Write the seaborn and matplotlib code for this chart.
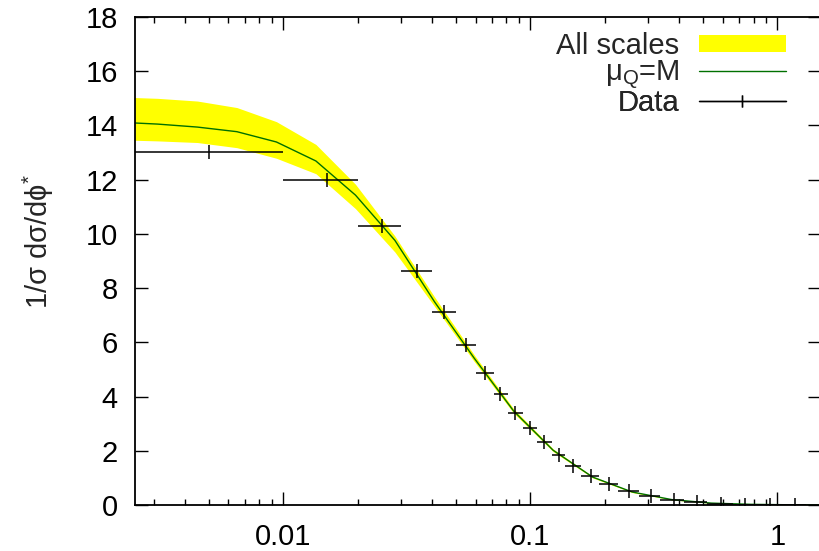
import numpy as np
import pandas as pd
import matplotlib
matplotlib.use("Agg")
import matplotlib.pyplot as plt
import seaborn as sns
from matplotlib.patches import Patch
from matplotlib.lines import Line2D
from matplotlib.ticker import LogLocator, NullFormatter, FixedLocator, FixedFormatter

# ---------------- data ----------------
theory_x = [0.00215, 0.00310, 0.00449, 0.00649, 0.00938, 0.01355, 0.0196, 0.0283,
            0.0409, 0.0592, 0.0855, 0.1236, 0.1786, 0.258, 0.373, 0.540, 0.780, 1.127, 1.63]
theory_central = [14.12, 14.05, 13.94, 13.77, 13.39, 12.69, 11.43, 9.76,
                  7.50, 5.42, 3.47, 2.02, 1.03, 0.48, 0.20, 0.07, 0.025, 0.008, 0.003]
theory_hi = [15.05, 15.00, 14.90, 14.66, 14.14, 13.30, 11.83, 9.92,
             7.68, 5.54, 3.55, 2.07, 1.06, 0.50, 0.21, 0.075, 0.028, 0.009, 0.0035]
theory_lo = [13.47, 13.43, 13.37, 13.18, 12.79, 12.22, 10.93, 9.33,
             7.33, 5.30, 3.39, 1.97, 1.00, 0.46, 0.19, 0.065, 0.022, 0.007, 0.0025]

data_x = [0.005, 0.015, 0.025, 0.0348, 0.0447, 0.0547, 0.0655, 0.0752, 0.0867, 0.100,
          0.114, 0.131, 0.149, 0.176, 0.208, 0.251, 0.307, 0.381, 0.474, 0.59, 0.74, 0.933, 1.175]
data_lo = [0.0, 0.01, 0.02, 0.03, 0.04, 0.05, 0.06, 0.0712, 0.081, 0.093,
           0.1065, 0.122, 0.138, 0.161, 0.19, 0.227, 0.276, 0.336, 0.42, 0.52, 0.66, 0.82, 1.04]
data_hi = [0.01, 0.02, 0.03, 0.04, 0.05, 0.06, 0.0712, 0.081, 0.093, 0.1065,
           0.122, 0.138, 0.161, 0.19, 0.227, 0.276, 0.336, 0.42, 0.52, 0.66, 0.82, 1.04, 1.3]
data_y = [13.02, 11.97, 10.28, 8.62, 7.12, 5.89, 4.87, 4.10, 3.41, 2.83,
          2.32, 1.85, 1.45, 1.07, 0.76, 0.52, 0.33, 0.18, 0.10, 0.04, 0.015, 0.005, 0.002]

x_ticks = [0.01, 0.1, 1]
x_tick_labels = ["0.01", "0.1", "1"]
y_ticks = [0, 2, 4, 6, 8, 10, 12, 14, 16, 18]
legend_labels = ["All scales", r"μ$_\mathregular{Q}$=M", "Data"]
y_label = r"1/σ dσ/dϕ$^{*}$"

# ---------------- style ----------------
sns.set_style("ticks")
plt.rcParams["font.family"] = ["Liberation Sans", "DejaVu Sans"]
plt.rcParams["mathtext.fontset"] = "custom"
plt.rcParams["mathtext.rm"] = "Liberation Sans"
plt.rcParams["mathtext.it"] = "Liberation Sans"
FS = 21

W, H = 819, 551
fig = plt.figure(figsize=(W / 100, H / 100), dpi=100)
left_px, right_px, top_px, bot_px = 134.5, 821.0, 17.0, 505.0
ax = fig.add_axes([left_px / W, 1 - bot_px / H, (right_px - left_px) / W, (bot_px - top_px) / H])

theory = pd.DataFrame({"x": theory_x, "y": theory_central, "lo": theory_lo, "hi": theory_hi})
data = pd.DataFrame({"x": data_x, "y": data_y, "lo": data_lo, "hi": data_hi})

ax.set_xscale("log")
ax.fill_between(theory["x"], theory["lo"], theory["hi"], color="#ffff00", lw=0, zorder=1)
sns.lineplot(data=theory, x="x", y="y", ax=ax, color="#007000", lw=1.0, zorder=2,
             estimator=None, sort=False)
xerr = np.vstack([data["x"] - data["lo"], data["hi"] - data["x"]])
ax.errorbar(data["x"], data["y"], xerr=xerr, fmt="none", ecolor="black",
            elinewidth=1.1, capsize=0, zorder=3)
sns.scatterplot(data=data, x="x", y="y", ax=ax, marker="|", s=110, color="black",
                linewidth=1.1, zorder=4)

ax.set_xlim(0.0025, 1.5)
ax.set_ylim(0, 18)
ax.set_xlabel("")
ax.set_ylabel(y_label, fontsize=FS)
ax.yaxis.set_label_coords(-0.114, 0.54)

ax.xaxis.set_major_locator(FixedLocator(x_ticks))
ax.xaxis.set_major_formatter(FixedFormatter(x_tick_labels))
ax.xaxis.set_minor_locator(LogLocator(base=10, subs=np.arange(2, 10)))
ax.xaxis.set_minor_formatter(NullFormatter())
ax.set_yticks(y_ticks)

for s in ax.spines.values():
    s.set_linewidth(1.3)
    s.set_color("black")
ax.tick_params(which="both", direction="in", top=True, right=True, colors="black")
ax.tick_params(which="major", length=9.5, width=1.0, labelsize=FS)
ax.tick_params(axis="x", which="major", pad=13)
ax.tick_params(axis="y", which="major", pad=12)
ax.tick_params(which="minor", length=4.3, width=1.0)
ax.tick_params(axis="y", which="minor", left=False, right=False)

handles = [Patch(facecolor="#ffff00", edgecolor="none"),
           Line2D([], [], color="#007000", lw=1.0),
           Line2D([], [], color="black", lw=1.0, marker="|", markersize=8, markeredgewidth=1.0)]
row_centers = [46, 75, 103]
for h, lab, yc in zip(handles, legend_labels, row_centers):
    lg = ax.legend([h], [lab], loc="center right", frameon=False, markerfirst=False,
                   fontsize=FS, bbox_to_anchor=(786 / W, 1 - yc / H),
                   bbox_transform=fig.transFigure, borderpad=0, borderaxespad=0,
                   handlelength=3.0, handleheight=0.55, handletextpad=0.65)
    ax.add_artist(lg)

fig.savefig("out.png", dpi=100)
